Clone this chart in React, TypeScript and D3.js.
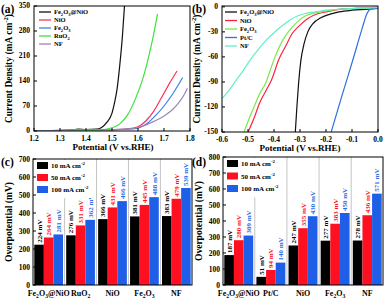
import React from 'react';
import * as d3 from 'd3';

type Pt = [number, number];

// (a) OER polarisation curves: [potential V vs RHE, current density mA cm-2]
const oerFeNiO: Pt[] = [[1.2, 0], [1.3, 1], [1.34, 2], [1.37, 5], [1.4, 4], [1.44, 5], [1.46, 10], [1.48, 24], [1.5, 50], [1.51, 80], [1.52, 120], [1.53, 185], [1.54, 265], [1.548, 350]];
const oerNiO: Pt[] = [[1.2, 0], [1.3, 1], [1.36, 4], [1.4, 3], [1.5, 4], [1.56, 6], [1.6, 12], [1.63, 28], [1.66, 55], [1.69, 93], [1.72, 132], [1.75, 168]];
const oerFe2O3: Pt[] = [[1.2, 0], [1.36, 3], [1.5, 4], [1.58, 6], [1.61, 11], [1.64, 24], [1.67, 45], [1.7, 70], [1.73, 100], [1.76, 135], [1.772, 150]];
const oerRuO2: Pt[] = [[1.2, 0], [1.4, 1], [1.46, 3], [1.5, 9], [1.53, 20], [1.56, 45], [1.59, 90], [1.62, 150], [1.64, 205], [1.66, 270], [1.675, 328]];
const oerNF: Pt[] = [[1.2, 0], [1.36, 3], [1.5, 4], [1.58, 7], [1.61, 12], [1.64, 20], [1.67, 30], [1.7, 42], [1.73, 58], [1.76, 82], [1.78, 105], [1.79, 120]];
const oerNames = ['Fe_2O_3@NiO', 'NiO', 'Fe_2O_3', 'RuO_2', 'NF'];
const oerColors = ['#111111', '#ff3058', '#3b82e6', '#3fe03f', '#9d86b8'];
const oerXTicks = [1.2, 1.3, 1.4, 1.5, 1.6, 1.7, 1.8];
const oerYTicks = [0, 70, 140, 210, 280, 350];

// (b) HER polarisation curves
const herFeNiO: Pt[] = [[-0.318, -150], [-0.312, -120], [-0.305, -90], [-0.297, -65], [-0.285, -45], [-0.27, -30], [-0.25, -20], [-0.22, -13], [-0.187, -9], [-0.15, -6], [-0.1, -4], [-0.05, -3], [0, -2]];
const herNiO: Pt[] = [[-0.5, -150], [-0.475, -132], [-0.455, -115], [-0.43, -100], [-0.41, -88], [-0.38, -62], [-0.355, -47], [-0.33, -32], [-0.3, -22], [-0.27, -14], [-0.247, -10], [-0.2, -6], [-0.15, -3], [-0.1, -2], [0, -0.5]];
const herFe2O3: Pt[] = [[-0.515, -150], [-0.497, -135], [-0.477, -120], [-0.455, -104], [-0.43, -90], [-0.41, -72], [-0.396, -60], [-0.37, -42], [-0.34, -28], [-0.31, -18], [-0.28, -11], [-0.24, -7], [-0.2, -5], [-0.1, -2], [0, -1]];
const herPtC: Pt[] = [[-0.18, -150], [-0.14, -108], [-0.1, -67], [-0.06, -25], [-0.045, -10], [-0.03, -3], [0, -1]];
const herNF: Pt[] = [[-0.6, -110], [-0.57, -99], [-0.55, -90], [-0.52, -77], [-0.49, -63], [-0.46, -51], [-0.43, -40], [-0.4, -31], [-0.37, -23], [-0.34, -16], [-0.31, -11], [-0.28, -8], [-0.24, -6], [-0.2, -4], [-0.1, -2], [0, -1]];
const herNames = ['Fe_2O_3@NiO', 'NiO', 'Fe_2O_3', 'Pt/C', 'NF'];
const herColors = ['#111111', '#ff2040', '#7be84a', '#2f6fe0', '#5ff0c8'];
const herXTicks = [-0.6, -0.5, -0.4, -0.3, -0.2, -0.1, 0.0];
const herYTicks = [0, -30, -60, -90, -120, -150];

// (c) OER overpotentials (mV)
const oerCats = ['Fe_2O_3@NiO', 'RuO_2', 'NiO', 'Fe_2O_3', 'NF'];
const oer10 = [224, 276, 366, 381, 383];
const oer50 = [264, 331, 431, 445, 479];
const oer100 = [281, 362, 466, 488, 539];
const oerBarTicks = [0, 100, 200, 300, 400, 500, 600, 700];

// (d) HER overpotentials (mV)
const herCats = ['Fe_2O_3@NiO', 'Pt/C', 'NiO', 'Fe_2O_3', 'NF'];
const her10 = [187, 51, 247, 277, 278];
const her50 = [280, 94, 355, 383, 436];
const her100 = [309, 140, 430, 450, 571];
const herBarTicks = [0, 100, 200, 300, 400, 500, 600, 700, 800];

const densityNames = ['10 mA cm^-2', '50 mA cm^-2', '100 mA cm^-2'];
const barColors = ['#000000', '#ff1020', '#1f5fe8'];
const labelColors = ['#000000', '#ff1020', '#2a6ae8'];

const FONT = '"Liberation Serif", "Times New Roman", serif';

// "_x" -> subscript, "^-2" -> superscript
function rich(text: string, size: number) {
  const parts = text.split(/(_[^_^]|\^-?\d)/).filter((p) => p !== '');
  let off = 0;
  return parts.map((p, i) => {
    let target = 0;
    let s = size;
    let t = p;
    if (p[0] === '_') {
      target = size * 0.3;
      s = size * 0.7;
      t = p.slice(1);
    } else if (p[0] === '^') {
      target = -size * 0.4;
      s = size * 0.7;
      t = p.slice(1);
    }
    const dy = target - off;
    off = target;
    return (
      <tspan key={i} dy={dy} fontSize={s}>
        {t}
      </tspan>
    );
  });
}

type Box = { l: number; r: number; t: number; b: number };

function LinePanel(props: {
  id: string;
  box: Box;
  xDomain: [number, number];
  yDomain: [number, number];
  xTicks: number[];
  yTicks: number[];
  lines: Pt[][];
  names: string[];
  colors: string[];
  legend: { x: number; y: number; step: number };
  tag: string;
  tagX: number;
  titleX: number;
}) {
  const { id, box, lines, names, colors, legend } = props;
  const x = d3.scaleLinear().domain(props.xDomain).range([box.l, box.r]);
  const y = d3.scaleLinear().domain(props.yDomain).range([box.b, box.t]);
  const line = d3
    .line<Pt>()
    .x((d) => x(d[0]))
    .y((d) => y(d[1]))
    .curve(d3.curveMonotoneX);
  const cy = (box.t + box.b) / 2;
  return (
    <g>
      <defs>
        <clipPath id={id}>
          <rect x={box.l} y={box.t} width={box.r - box.l} height={box.b - box.t} />
        </clipPath>
      </defs>
      <g clipPath={`url(#${id})`}>
        {lines.map((pts, i) => (
          <path key={i} d={line(pts) ?? ''} fill="none" stroke={colors[i]} strokeWidth={1.2} />
        ))}
      </g>
      <rect x={box.l} y={box.t} width={box.r - box.l} height={box.b - box.t} fill="none" stroke="#000" strokeWidth={1} />
      {props.xTicks.map((v) => (
        <g key={v}>
          <line x1={x(v)} x2={x(v)} y1={box.b} y2={box.b - 3} stroke="#000" />
          <text x={x(v)} y={box.b + 9.5} textAnchor="middle" fontSize={7.5}>
            {v.toFixed(1)}
          </text>
        </g>
      ))}
      {props.yTicks.map((v) => (
        <g key={v}>
          <line x1={box.l} x2={box.l + 3} y1={y(v)} y2={y(v)} stroke="#000" />
          <text x={box.l - 4} y={y(v) + 2.4} textAnchor="end" fontSize={7.5}>
            {v}
          </text>
        </g>
      ))}
      {names.map((n, i) => (
        <g key={n}>
          <line x1={legend.x} x2={legend.x + 12} y1={legend.y + i * legend.step} y2={legend.y + i * legend.step} stroke={colors[i]} strokeWidth={1.3} />
          <text x={legend.x + 15} y={legend.y + i * legend.step + 2.3} fontSize={6.5}>
            {rich(n, 6.5)}
          </text>
        </g>
      ))}
      <text x={props.titleX} y={box.b + 19} textAnchor="middle" fontSize={9}>
        Potential (V vs.RHE)
      </text>
      <text transform={`translate(${box.l - 22},${cy}) rotate(-90)`} textAnchor="middle" fontSize={9.5}>
        {rich('Current Density (mA cm^-2)', 9.5)}
      </text>
      <text x={props.tagX} y={13} fontSize={11.5}>
        {props.tag}
      </text>
    </g>
  );
}

function BarPanel(props: {
  box: Box;
  cats: string[];
  series: number[][];
  yMax: number;
  yTicks: number[];
  tag: string;
  tagX: number;
  legendW: number;
  legendStep: number;
}) {
  const { box, cats, series } = props;
  const x = d3.scaleBand().domain(cats).range([box.l, box.r]).paddingInner(0.1).paddingOuter(0.04);
  const xi = d3.scaleBand<number>().domain([0, 1, 2]).range([0, x.bandwidth()]);
  const y = d3.scaleLinear().domain([0, props.yMax]).range([box.b, box.t]);
  const gap = x.step() - x.bandwidth();
  const cy = (box.t + box.b) / 2;
  return (
    <g>
      {cats.slice(0, -1).map((c) => {
        const sx = (x(c) ?? 0) + x.bandwidth() + gap / 2;
        return <line key={c} x1={sx} x2={sx} y1={box.t} y2={box.b} stroke="#c4c4c4" strokeWidth={1} />;
      })}
      {cats.map((c, ci) => (
        <g key={c}>
          {series.map((vals, si) => {
            const bx = (x(c) ?? 0) + (xi(si) ?? 0);
            const v = vals[ci];
            return (
              <g key={si}>
                <rect x={bx} y={y(v)} width={xi.bandwidth()} height={y(0) - y(v)} fill={barColors[si]} />
                <text
                  transform={`translate(${bx + xi.bandwidth() / 2 + 2.5},${y(v) - 2}) rotate(-90)`}
                  fontSize={7}
                  fill={labelColors[si]}
                >
                  {v} mV
                </text>
              </g>
            );
          })}
          <text x={(x(c) ?? 0) + x.bandwidth() / 2} y={box.b + 11} textAnchor="middle" fontSize={8}>
            {rich(c, 8)}
          </text>
        </g>
      ))}
      <rect x={box.l + 1} y={box.t + 1} width={props.legendW} height={props.legendStep * 3 + 2} fill="#fff" />
      {densityNames.map((n, i) => {
        const ly = box.t + 3 + i * props.legendStep;
        return (
          <g key={n}>
            <rect x={box.l + 4} y={ly} width={11} height={7} fill={barColors[i]} />
            <text x={box.l + 18} y={ly + 6} fontSize={7}>
              {rich(n, 7)}
            </text>
          </g>
        );
      })}
      <rect x={box.l} y={box.t} width={box.r - box.l} height={box.b - box.t} fill="none" stroke="#000" strokeWidth={1} />
      {props.yTicks.map((v) => (
        <g key={v}>
          <line x1={box.l} x2={box.l + 3} y1={y(v)} y2={y(v)} stroke="#000" />
          <text x={box.l - 3} y={y(v) + 2.6} textAnchor="end" fontSize={7.5}>
            {v}
          </text>
        </g>
      ))}
      <text transform={`translate(${box.l - 21},${cy}) rotate(-90)`} textAnchor="middle" fontSize={9.5}>
        Overpotential (mV)
      </text>
      <text x={props.tagX} y={166} fontSize={11.5}>
        {props.tag}
      </text>
    </g>
  );
}

export default function App() {
  return (
    <svg
      width={385}
      height={301}
      style={{ position: 'absolute', left: 0, top: 0, background: '#fff' }}
      fontFamily={FONT}
      fontWeight="bold"
    >
      <LinePanel
        id="clipA"
        box={{ l: 34, r: 190, t: 6, b: 131 }}
        xDomain={[1.2, 1.8]}
        yDomain={[0, 350]}
        xTicks={oerXTicks}
        yTicks={oerYTicks}
        lines={[oerFeNiO, oerNiO, oerFe2O3, oerRuO2, oerNF]}
        names={oerNames}
        colors={oerColors}
        legend={{ x: 39, y: 12, step: 8 }}
        tag="(a)"
        tagX={1}
        titleX={113}
      />
      <LinePanel
        id="clipB"
        box={{ l: 222, r: 378, t: 6, b: 132 }}
        xDomain={[-0.6, 0]}
        yDomain={[-150, 1]}
        xTicks={herXTicks}
        yTicks={herYTicks}
        lines={[herFeNiO, herNiO, herFe2O3, herPtC, herNF]}
        names={herNames}
        colors={herColors}
        legend={{ x: 225, y: 12, step: 8.5 }}
        tag="(b)"
        tagX={192}
        titleX={300}
      />
      <BarPanel
        box={{ l: 33, r: 192, t: 159, b: 285 }}
        cats={oerCats}
        series={[oer10, oer50, oer100]}
        yMax={700}
        yTicks={oerBarTicks}
        tag="(c)"
        tagX={1}
        legendW={59}
        legendStep={12}
      />
      <BarPanel
        box={{ l: 223, r: 383, t: 157, b: 285 }}
        cats={herCats}
        series={[her10, her50, her100]}
        yMax={800}
        yTicks={herBarTicks}
        tag="(d)"
        tagX={192}
        legendW={62}
        legendStep={12.5}
      />
    </svg>
  );
}
